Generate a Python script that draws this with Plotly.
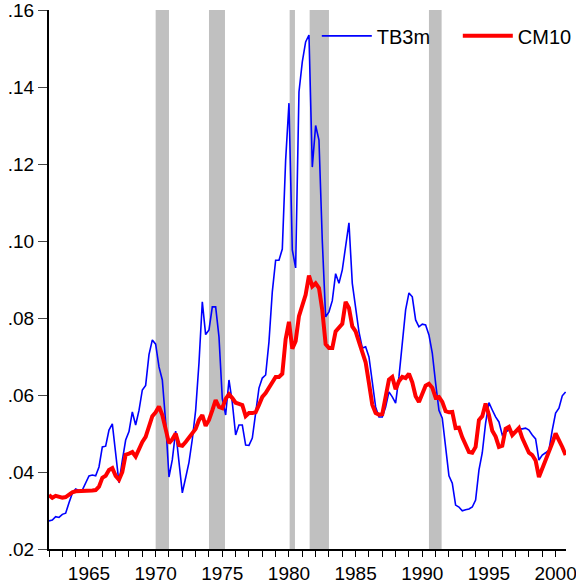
import plotly.graph_objects as go

start_year = 1962

tb3m = [
    .0273, .0275, .0284, .0282,   # 1962
    .0290, .0293, .0320, .0345,   # 1963
    .0356, .0352, .0353, .0370,   # 1964
    .0390, .0392, .0390, .0413,   # 1965
    .0465, .0467, .0509, .0525,   # 1966
    .0452, .0372, .0430, .0483,   # 1967
    .0505, .0556, .0522, .0560,   # 1968
    .0613, .0625, .0705, .0743,   # 1969
    .0732, .0673, .0639, .0530,   # 1970
    .0387, .0432, .0506, .0431,   # 1971
    .0346, .0385, .0425, .0485,   # 1972
    .0560, .0683, .0842, .0757,   # 1973
    .0769, .0829, .0829, .0751,   # 1974
    .0590, .0548, .0639, .0580,   # 1975
    .0496, .0522, .0522, .0470,   # 1976
    .0469, .0488, .0553, .0618,   # 1977
    .0644, .0652, .0738, .0868,   # 1978
    .0950, .0950, .0979, .1210,   # 1979
    .1358, .0977, .0930, .1387,   # 1980
    .1465, .1517, .1535, .1192,   # 1981
    .1300, .1262, .1000, .0803,   # 1982
    .0816, .0845, .0915, .0890,   # 1983
    .0925, .0990, .1047, .0890,   # 1984
    .0829, .0764, .0722, .0725,   # 1985
    .0699, .0639, .0569, .0543,   # 1986
    .0543, .0569, .0608, .0595,   # 1987
    .0579, .0647, .0743, .0821,   # 1988
    .0865, .0855, .0795, .0777,   # 1989
    .0784, .0782, .0756, .0709,   # 1990
    .0631, .0560, .0540, .0465,   # 1991
    .0390, .0371, .0314, .0309,   # 1992
    .0299, .0302, .0304, .0309,   # 1993
    .0327, .0405, .0450, .0527,   # 1994
    .0580, .0561, .0543, .0530,   # 1995
    .0496, .0504, .0509, .0504,   # 1996
    .0504, .0512, .0512, .0514,   # 1997
    .0509, .0496, .0486, .0431,   # 1998
    .0444, .0450, .0457, .0509,   # 1999
    .0553, .0566, .0598, .0608,   # 2000
]

cm10 = [
    .0340, .0333, .0338, .0336,   # 1962
    .0333, .0335, .0342, .0347,   # 1963
    .0350, .0350, .0350, .0350,   # 1964
    .0351, .0352, .0353, .0362,   # 1965
    .0385, .0390, .0405, .0410,   # 1966
    .0390, .0380, .0400, .0445,   # 1967
    .0448, .0452, .0440, .0460,   # 1968
    .0478, .0491, .0520, .0545,   # 1969
    .0555, .0570, .0548, .0515,   # 1970
    .0475, .0485, .0500, .0470,   # 1971
    .0468, .0478, .0490, .0499,   # 1972
    .0512, .0535, .0548, .0520,   # 1973
    .0535, .0560, .0587, .0569,   # 1974
    .0566, .0590, .0602, .0592,   # 1975
    .0580, .0577, .0574, .0545,   # 1976
    .0553, .0553, .0555, .0574,   # 1977
    .0595, .0605, .0618, .0633,   # 1978
    .0647, .0647, .0655, .0745,   # 1979
    .0790, .0720, .0740, .0805,   # 1980
    .0837, .0860, .0910, .0882,   # 1981
    .0890, .0878, .0820, .0732,   # 1982
    .0722, .0722, .0765, .0777,   # 1983
    .0785, .0842, .0826, .0778,   # 1984
    .0765, .0738, .0712, .0685,   # 1985
    .0631, .0575, .0553, .0549,   # 1986
    .0550, .0590, .0640, .0647,   # 1987
    .0615, .0636, .0647, .0644,   # 1988
    .0655, .0633, .0597, .0582,   # 1989
    .0602, .0624, .0629, .0619,   # 1990
    .0593, .0595, .0582, .0558,   # 1991
    .0555, .0556, .0514, .0515,   # 1992
    .0490, .0470, .0452, .0450,   # 1993
    .0465, .0535, .0545, .0578,   # 1994
    .0548, .0507, .0492, .0465,   # 1995
    .0468, .0512, .0517, .0496,   # 1996
    .0505, .0514, .0488, .0468,   # 1997
    .0450, .0444, .0430, .0387,   # 1998
    .0408, .0430, .0452, .0475,   # 1999
    .0500, .0485, .0465, .0444,   # 2000
]

quarters = [start_year + k / 4 for k in range(len(tb3m))]

recession_start = [1970.0, 1974.0, 1980.05, 1981.55, 1990.5]
recession_end = [1971.0, 1975.2, 1980.45, 1983.0, 1991.45]

ytick_vals = [0.02, 0.04, 0.06, 0.08, 0.10, 0.12, 0.14, 0.16]
ytick_text = [".02", ".04", ".06", ".08", ".10", ".12", ".14", ".16"]
xtick_vals = [1965, 1970, 1975, 1980, 1985, 1990, 1995, 2000]

FONT = "Arial, Liberation Sans, Helvetica, sans-serif"

fig = go.Figure()
fig.add_trace(go.Scatter(x=quarters, y=tb3m, mode="lines", name="TB3m",
                         line=dict(color="#0000FF", width=1.6)))
fig.add_trace(go.Scatter(x=quarters, y=cm10, mode="lines", name="CM10",
                         line=dict(color="#FF0000", width=4)))

for s, e in zip(recession_start, recession_end):
    fig.add_shape(type="rect", xref="x", yref="paper", x0=s, x1=e, y0=0, y1=1,
                  fillcolor="#C0C0C0", line=dict(width=0), layer="below")

fig.update_layout(
    width=576, height=585,
    margin=dict(l=49, r=10, t=10, b=36, autoexpand=False),
    paper_bgcolor="white", plot_bgcolor="white",
    font=dict(family=FONT, size=18, color="black"),
    showlegend=True,
    legend=dict(orientation="h", x=0.518, xanchor="left", y=0.952, yanchor="middle",
                bgcolor="rgba(0,0,0,0)", font=dict(size=20), itemwidth=50,
                entrywidth=76),
)
fig.update_xaxes(range=[1962, 2000.78], showgrid=False, zeroline=False,
                 showline=True, linecolor="black", linewidth=2,
                 tickmode="array", tickvals=xtick_vals, automargin=False,
                 ticklabeloverflow="allow",
                 ticks="outside", ticklen=6, tickcolor="black", tickwidth=1,
                 minor=dict(dtick=1, tick0=1962, ticks="outside", ticklen=6,
                            tickcolor="black", tickwidth=1, showgrid=False),
                 tickfont=dict(size=19))
fig.update_yaxes(range=[0.02, 0.16], showgrid=False, zeroline=False,
                 showline=True, linecolor="black", linewidth=2,
                 tickmode="array", tickvals=ytick_vals, ticktext=ytick_text,
                 automargin=False, ticklabeloverflow="allow",
                 ticks="outside", ticklen=9, tickcolor="#444", tickwidth=1,
                 tickfont=dict(size=19))

fig.write_html("out.html", config={"displayModeBar": False},
               post_script="document.body.style.margin='0';")
